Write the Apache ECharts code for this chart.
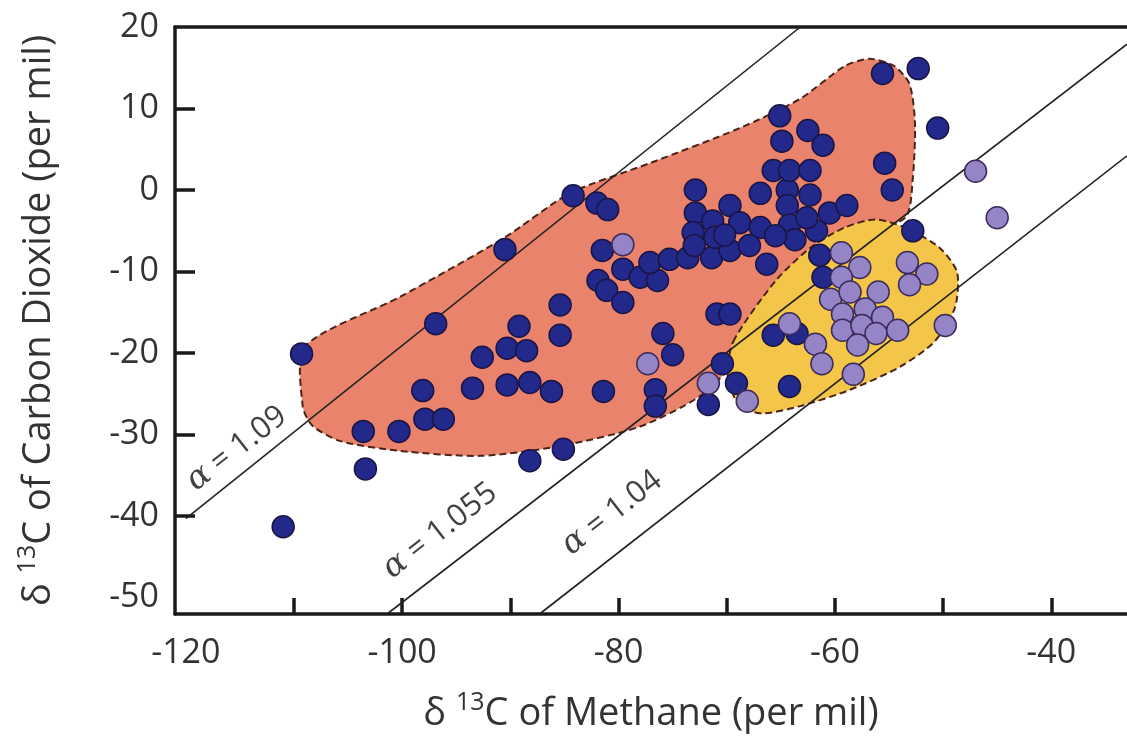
<!DOCTYPE html>
<html><head><meta charset="utf-8">
<script src="https://cdn.jsdelivr.net/npm/echarts@6/dist/echarts.min.js"></script>
<style>html,body{margin:0;padding:0;background:#fff}#c{width:1127px;height:750px}</style>
</head><body><div id="c"></div>
<script>
// ---- axis ticks / labels ----
const xLabelValues = [-120, -100, -80, -60, -40];
const xTickValues = [-110, -100, -90, -80, -70, -60, -50, -40];
const yLabelValues = [-50, -40, -30, -20, -10, 0, 10, 20];
const yTickValues = [-40, -30, -20, -10, 0, 10];

// ---- fractionation lines (endpoints: [CH4, CO2]) ----
const alphaNames = ['1.09', '1.055', '1.04'];
const line109 = [[-120.0, -40.3], [-63.2, 20.0]];
const line1055 = [[-101.4, -52.0], [-33.0, 17.9]];
const line104 = [[-87.3, -52.0], [-33.0, 4.2]];
const alphaLabelX = [-115.3, -96.5, -80.6];
const alphaLabelY = [-31.7, -41.8, -39.6];

// ---- shaded fields ----
const orangeField = [
  [-109.0, -19.2], [-109.2, -26.5], [-108.3, -28.9], [-105.7, -30.8], [-100.2, -32.0],
  [-92.8, -32.6], [-85.4, -31.4], [-78.0, -29.0], [-72.5, -25.3], [-69.2, -21.0],
  [-65.1, -12.5], [-58.6, -5.8], [-53.5, -3.4], [-52.8, 1.5], [-52.6, 8.2],
  [-53.1, 13.0], [-54.5, 15.2], [-56.8, 16.1], [-59.1, 15.2], [-63.2, 11.2],
  [-68.8, 7.6], [-77.1, 3.3], [-84.5, -0.4], [-90.5, -5.8], [-100.2, -13.1]
];
const yellowField = [
  [-69.4, -18.6], [-65.4, -11.0], [-62.0, -6.8], [-59.1, -4.6], [-56.3, -3.6],
  [-53.5, -4.6], [-50.3, -7.1], [-48.7, -10.1], [-48.9, -14.4], [-50.8, -18.6],
  [-54.0, -21.7], [-58.6, -24.5], [-63.2, -26.5], [-66.7, -27.4], [-68.8, -26.5],
  [-69.9, -22.9]
];

// ---- data points [δ13C CH4, δ13C CO2] ----
const navyPoints = [
  [-109.3, -20.1], [-111.0, -41.3], [-103.6, -29.6], [-103.4, -34.2], [-100.3, -29.6],
  [-96.9, -16.4], [-98.1, -24.6], [-97.9, -28.1], [-96.2, -28.1], [-92.6, -20.5],
  [-93.5, -24.3], [-90.5, -7.3], [-90.3, -19.4], [-89.2, -16.7], [-88.5, -19.7],
  [-90.3, -23.9], [-88.2, -23.6], [-86.2, -24.7], [-85.4, -14.1], [-85.4, -17.8],
  [-88.2, -33.2], [-85.1, -31.8],
  [-84.2, -0.7], [-82.0, -1.6], [-81.0, -2.4], [-81.5, -7.4], [-81.9, -11.1],
  [-81.1, -12.3], [-79.6, -13.8], [-79.6, -9.7], [-78.0, -10.7], [-76.4, -11.1],
  [-77.1, -8.9], [-75.3, -8.5], [-73.6, -8.3], [-71.4, -8.3], [-69.7, -7.4],
  [-72.9, 0.0], [-72.9, -2.8], [-73.1, -5.2], [-71.3, -3.8], [-71.1, -5.8],
  [-69.7, -1.9], [-68.8, -4.0], [-66.9, -4.6], [-66.9, -0.4], [-67.9, -6.8],
  [-66.3, -9.1], [-64.4, 0.0], [-64.4, -1.9], [-64.2, -4.3], [-63.7, -6.1],
  [-62.3, -0.6], [-61.7, -5.0], [-60.5, -2.8], [-58.9, -1.9], [-65.7, 2.4],
  [-64.2, 2.4], [-62.3, 2.4], [-65.1, 9.1], [-62.5, 7.3], [-61.1, 5.5],
  [-64.9, 6.0], [-55.6, 14.3], [-52.3, 14.9], [-50.5, 7.6], [-55.4, 3.3],
  [-54.7, 0.0], [-52.8, -5.0], [-61.4, -8.0], [-61.1, -10.7], [-70.9, -15.2],
  [-69.7, -15.2], [-75.9, -17.6], [-75.0, -20.2], [-76.6, -24.5], [-76.6, -26.5],
  [-81.4, -24.7], [-70.4, -21.3], [-71.7, -26.3], [-69.1, -23.7], [-64.2, -24.1],
  [-65.7, -17.8], [-63.5, -17.6], [-65.5, -5.6], [-62.6, -3.4], [-73.0, -6.8],
  [-70.2, -5.5]
];
const lavenderPoints = [
  [-79.6, -6.7], [-77.3, -21.3], [-71.7, -23.7], [-68.1, -25.9], [-64.2, -16.4],
  [-61.8, -18.9], [-61.2, -21.3], [-60.4, -13.4], [-59.4, -7.7], [-57.7, -9.5],
  [-59.4, -10.7], [-53.3, -8.9], [-51.5, -10.3], [-53.1, -11.6], [-56.0, -12.5],
  [-58.6, -12.5], [-59.3, -15.2], [-57.2, -14.6], [-55.6, -15.6], [-59.3, -17.2],
  [-57.5, -16.6], [-56.2, -17.6], [-54.2, -17.2], [-57.9, -19.0], [-49.8, -16.6],
  [-58.3, -22.6], [-47.0, 2.3], [-45.0, -3.4]
];

const FONT = '"Open Sans", "Noto Sans", sans-serif';
const chart = echarts.init(document.getElementById('c'), null, {renderer: 'canvas'});

function fieldSeries(pts, fill, z) {
  return {
    type: 'custom', coordinateSystem: 'cartesian2d', z: z, silent: true,
    data: [[pts[0][0], pts[0][1]]],
    clip: true,
    renderItem: function (params, api) {
      return {
        type: 'polygon',
        shape: { points: pts.map(p => api.coord(p)), smooth: 0.25 },
        style: { fill: fill, stroke: '#4a2418', lineWidth: 2, lineDash: [7, 4] }
      };
    }
  };
}
function refLine(pts) {
  return {
    type: 'line', data: pts, symbol: 'none', z: 3, silent: true,
    lineStyle: { color: '#222', width: 1.6 }
  };
}

const titleRich = {
  a: { fontSize: 38, fontFamily: FONT, color: '#333', lineHeight: 48 },
  s: { fontSize: 25, fontFamily: FONT, color: '#333', verticalAlign: 'top', lineHeight: 48 }
};

chart.setOption({
  animation: false,
  backgroundColor: '#fff',
  grid: { left: 175, top: 27, right: 0, bottom: 136, containLabel: false },
  xAxis: [{
    type: 'value', min: -121, max: -33, position: 'bottom',
    axisLine: { show: true, onZero: false, lineStyle: { color: '#1a1a1a', width: 3.5 } },
    axisTick: { show: true, inside: true, length: 16, lineStyle: { color: '#1a1a1a', width: 3.5 }, customValues: xTickValues },
    axisLabel: { fontSize: 34, fontFamily: FONT, color: '#333', margin: 22, customValues: xLabelValues },
    splitLine: { show: false },
    name: '{a|δ }{s|13}{a|C of Methane (per mil)}',
    nameLocation: 'middle', nameGap: 76,
    nameTextStyle: { rich: titleRich }
  }, {
    type: 'value', min: -121, max: -33, position: 'top',
    axisLine: { show: true, onZero: false, lineStyle: { color: '#1a1a1a', width: 3.5 } },
    axisTick: { show: false }, axisLabel: { show: false }, splitLine: { show: false }
  }],
  yAxis: {
    type: 'value', min: -52, max: 20,
    axisLine: { show: true, onZero: false, lineStyle: { color: '#1a1a1a', width: 3.5 } },
    axisTick: { show: true, inside: true, length: 20, lineStyle: { color: '#1a1a1a', width: 3.5 }, customValues: yTickValues },
    axisLabel: { fontSize: 34, fontFamily: FONT, color: '#333', margin: 16, customValues: yLabelValues },
    splitLine: { show: false },
    name: '{a|δ }{s|13}{a|C of Carbon Dioxide (per mil)}',
    nameLocation: 'middle', nameRotate: 90, nameGap: 112,
    nameTextStyle: { rich: titleRich }
  },
  series: [
    fieldSeries(orangeField, '#EA836C', 1),
    fieldSeries(yellowField, '#F3C548', 2),
    refLine(line109), refLine(line1055), refLine(line104),
    {
      type: 'scatter', z: 4, silent: true, symbolSize: 0,
      data: alphaLabelX.map((x, i) => [x, alphaLabelY[i], alphaNames[i]]),
      label: {
        show: true, position: 'inside', rotate: 38,
        formatter: p => '{g|α} = ' + p.value[2],
        fontSize: 31, fontFamily: FONT, color: '#111',
        rich: { g: { fontSize: 33, fontFamily: '"DejaVu Serif", serif', fontStyle: 'italic', color: '#111' } }
      }
    },
    {
      type: 'scatter', z: 5, data: navyPoints, symbol: 'circle', symbolSize: 22,
      itemStyle: { color: '#22298a', opacity: 1, borderColor: '#1b1545', borderWidth: 1.5 }
    },
    {
      type: 'scatter', z: 6, data: lavenderPoints, symbol: 'circle', symbolSize: 22,
      itemStyle: { color: '#9584c6', opacity: 1, borderColor: '#3b2c5c', borderWidth: 1.5 }
    }
  ]
});
</script></body></html>
